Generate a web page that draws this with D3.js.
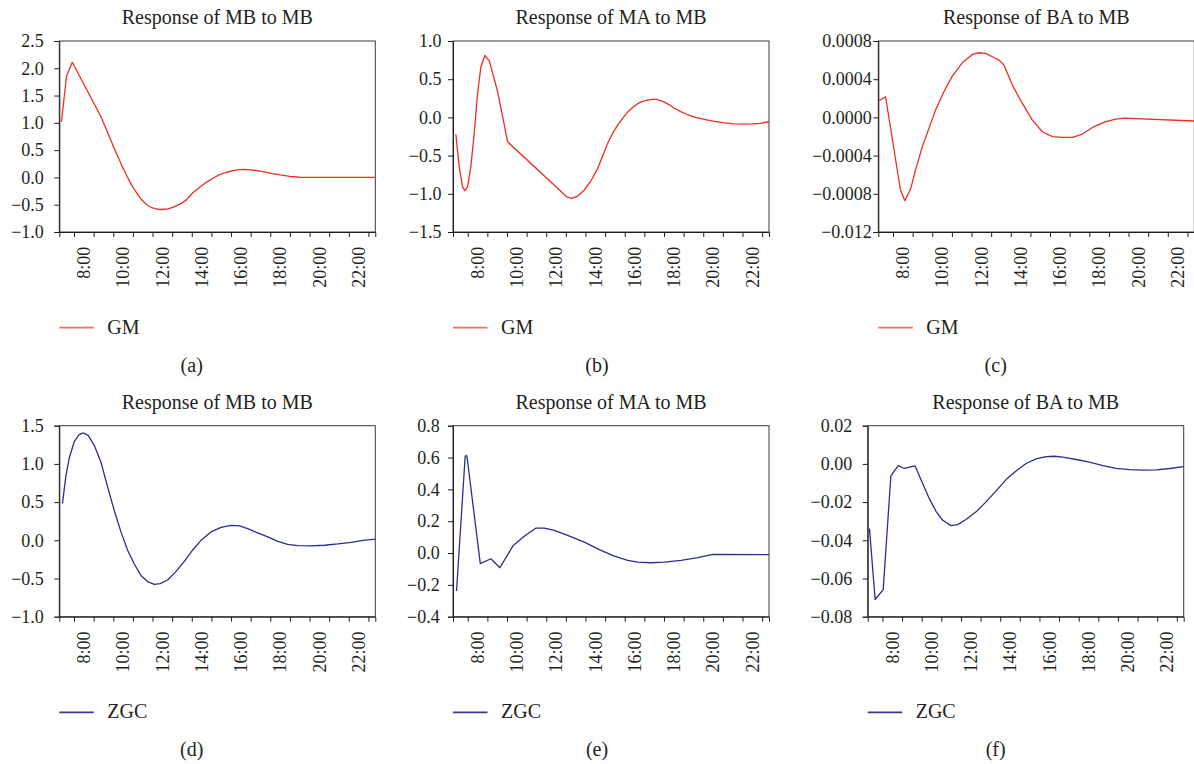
<!DOCTYPE html>
<html>
<head>
<meta charset="utf-8">
<script src="https://cdn.jsdelivr.net/npm/d3@7"></script>
<style>
  body { margin: 0; background: #fff; }
  svg text { font-family: "Liberation Serif", "DejaVu Serif", serif !important; fill: #231f20; }
</style>
</head>
<body>
<div id="chart"></div>
<script>
// time axis (hours of the day)
var hourLabels = [8, 10, 12, 14, 16, 18, 20, 22];
var minorTicks = [7.5, 8.5, 9.5, 10.5, 11.5, 12.5, 13.5, 14.5, 15.5, 16.5, 17.5, 18.5, 19.5, 20.5, 21.5, 22.5];

// GM responses
var gmMB = [[6.86,1.02],[7.12,1.86],[7.41,2.11],[8.86,1.12],[9.15,0.88],[9.4,0.66],[9.6,0.49],[9.8,0.33],[10.0,0.17],
    [10.2,0.02],[10.45,-0.15],[10.7,-0.29],[10.95,-0.41],[11.2,-0.5],[11.5,-0.56],[11.8,-0.585],[12.0,-0.588],
    [12.3,-0.575],[12.6,-0.54],[12.9,-0.49],[13.2,-0.42],[13.56,-0.28],[13.9,-0.18],[14.24,-0.09],[14.6,-0.01],
    [14.92,0.05],[15.25,0.095],[15.6,0.125],[15.9,0.143],[16.2,0.147],[16.5,0.14],[16.8,0.125],[17.2,0.1],
    [17.6,0.07],[18.0,0.045],[18.5,0.02],[19.0,0.003],[20.0,0.0],[21.0,0.0],[22.85,0.002]];
var gmMA = [[6.895,-0.22],[7.065,-0.645],[7.235,-0.907],[7.354,-0.96],[7.49,-0.91],[7.66,-0.645],[7.83,-0.21],
    [8.0,0.31],[8.17,0.66],[8.37,0.81],[8.6,0.74],[8.8,0.55],[9.02,0.34],[9.28,0.01],[9.53,-0.32],[12.34,-0.99],
    [12.55,-1.04],[12.8,-1.06],[13.1,-1.03],[13.44,-0.95],[13.8,-0.82],[14.12,-0.67],[14.4,-0.49],[14.63,-0.34],
    [14.9,-0.2],[15.14,-0.1],[15.4,-0.01],[15.65,0.07],[15.9,0.13],[16.16,0.18],[16.4,0.21],[16.67,0.227],
    [16.9,0.235],[17.1,0.235],[17.3,0.222],[17.52,0.2],[17.8,0.16],[18.03,0.12],[18.35,0.075],[18.7,0.035],
    [19.1,0.0],[19.56,-0.026],[20.0,-0.05],[20.58,-0.072],[21.1,-0.084],[21.6,-0.087],[22.0,-0.085],
    [22.4,-0.077],[22.85,-0.057]];
var gmBA = [[6.78,0.000174],[7.12,0.000216],[7.88,-0.00076],[8.1,-0.000872],[8.39,-0.000753],[8.65,-0.00055],
    [8.99,-0.000307],[9.33,-0.000115],[9.67,0.000077],[10.09,0.000268],[10.52,0.000432],[11.03,0.000572],
    [11.54,0.000659],[11.88,0.000677],[12.22,0.00067],[12.56,0.000635],[12.9,0.0006],[13.15,0.000548],
    [13.58,0.000338],[14.09,0.000146],[14.6,-0.000028],[15.11,-0.00015],[15.62,-0.000202],[16.13,-0.000209],
    [16.64,-0.000209],[17.15,-0.000174],[17.66,-0.000105],[18.34,-0.000045],[18.85,-0.000017],
    [19.28,-0.000007],[22.85,-0.000038]];

// ZGC responses
var zgcMB = [[6.91,0.48],[7.08,0.83],[7.25,1.07],[7.51,1.29],[7.76,1.383],[7.98,1.405],[8.22,1.374],[8.53,1.243],
    [8.87,1.025],[9.21,0.70],[9.55,0.39],[9.89,0.11],[10.23,-0.13],[10.57,-0.31],[10.91,-0.46],[11.25,-0.54],
    [11.59,-0.576],[11.89,-0.567],[12.27,-0.52],[12.69,-0.41],[13.12,-0.275],[13.54,-0.13],[13.97,0.0],
    [14.48,0.11],[14.99,0.17],[15.5,0.196],[15.93,0.19],[16.35,0.153],[16.86,0.096],[17.37,0.044],
    [17.88,-0.013],[18.39,-0.052],[18.9,-0.07],[19.58,-0.074],[20.26,-0.065],[20.94,-0.048],[21.62,-0.026],
    [22.22,0.0],[22.9,0.017]];
var zgcMA = [[6.93,-0.239],[7.37,0.607],[7.42,0.614],[7.47,0.6],[8.14,-0.067],[8.68,-0.036],[9.14,-0.092],
    [9.82,0.048],[10.38,0.105],[10.98,0.157],[11.4,0.157],[11.91,0.142],[12.59,0.111],[13.44,0.069],
    [14.29,0.017],[14.97,-0.019],[15.65,-0.046],[16.16,-0.057],[16.84,-0.061],[17.52,-0.057],[18.37,-0.046],
    [19.22,-0.029],[19.99,-0.008],[22.85,-0.01]];
var zgcBA = [[6.84,-0.0339],[7.13,-0.071],[7.54,-0.0658],[7.93,-0.0063],[8.31,-0.0009],[8.61,-0.0024],
    [9.16,-0.001],[9.55,-0.0103],[9.89,-0.0182],[10.23,-0.0248],[10.57,-0.0295],[10.99,-0.0323],
    [11.33,-0.0318],[11.76,-0.0291],[12.27,-0.0251],[12.78,-0.0199],[13.29,-0.0141],[13.8,-0.0082],
    [14.31,-0.0037],[14.82,0.0002],[15.33,0.0026],[15.84,0.0038],[16.27,0.004],[16.69,0.0035],[17.37,0.0023],
    [18.05,0.0009],[18.73,-0.0009],[19.41,-0.0023],[20.09,-0.003],[20.77,-0.0033],[21.45,-0.0031],
    [22.13,-0.0024],[22.85,-0.0014]];

// y ticks and their printed labels
var ticksMB1 = [-1.0, -0.5, 0.0, 0.5, 1.0, 1.5, 2.0, 2.5];
var ticksMA1 = [-1.5, -1.0, -0.5, 0.0, 0.5, 1.0];
var ticksBA1 = [-0.0012, -0.0008, -0.0004, 0.0, 0.0004, 0.0008];
var labelsBA1 = ["\u22120.012", "\u22120.0008", "\u22120.0004", "0.0000", "0.0004", "0.0008"];
var ticksMB2 = [-1.0, -0.5, 0.0, 0.5, 1.0, 1.5];
var ticksMA2 = [-0.4, -0.2, 0.0, 0.2, 0.4, 0.6, 0.8];
var ticksBA2 = [-0.08, -0.06, -0.04, -0.02, 0.0, 0.02];

var titles = ["Response of MB to MB", "Response of MA to MB", "Response of BA to MB"];
var subLabels = ["(a)", "(b)", "(c)", "(d)", "(e)", "(f)"];

var red = "#ec2f22", blue = "#2e2d8f";
var serif = '"Liberation Serif", "DejaVu Serif", serif';

var fmt = function(digits) {
    return function(d) { return d3.format("." + digits + "f")(d).replace("-", "\u2212"); };
};

var panels = [
    { data: gmMB, ticks: ticksMB1, fmt: fmt(1), title: titles[0], name: "GM", color: red, left: 59.3, top: 41, pad: 10.5, sub: 191.7 },
    { data: gmMA, ticks: ticksMA1, fmt: fmt(1), title: titles[1], name: "GM", color: red, left: 453, top: 41, pad: 6.5, sub: 597 },
    { data: gmBA, ticks: ticksBA1, fmt: function(d, i) { return labelsBA1[i]; }, title: titles[2], name: "GM", color: red, left: 878.3, top: 41, pad: 1.5, sub: 995.7 },
    { data: zgcMB, ticks: ticksMB2, fmt: fmt(1), title: titles[0], name: "ZGC", color: blue, left: 59.3, top: 425.7, pad: 10.5, sub: 191.7 },
    { data: zgcMA, ticks: ticksMA2, fmt: fmt(1), title: titles[1], name: "ZGC", color: blue, left: 453, top: 425.7, pad: 8.3, sub: 597 },
    { data: zgcBA, ticks: ticksBA2, fmt: fmt(2), title: titles[2], name: "ZGC", color: blue, left: 867.7, top: 425.7, pad: 10.5, sub: 995.7 }
];

var width = 316, height = 191;

var svg = d3.select("#chart").append("svg")
    .attr("width", 1194)
    .attr("height", 764)
    .attr("font-family", serif);

panels.forEach(function(p, i) {
    var x = d3.scaleLinear().domain([6.75, 22.85]).range([0, width]);
    var y = d3.scaleLinear().domain(d3.extent(p.ticks)).range([height, 0]);

    var g = svg.append("g").attr("transform", "translate(" + p.left + "," + p.top + ")");

    g.append("clipPath").attr("id", "clip" + i)
        .append("rect").attr("width", width).attr("height", height);

    // frame
    g.append("rect")
        .attr("width", width).attr("height", height)
        .attr("fill", "none").attr("stroke", "#3a3a3a").attr("stroke-width", 1);

    // y axis
    var yAxis = g.append("g")
        .call(d3.axisLeft(y).tickValues(p.ticks).tickFormat(p.fmt).tickSize(5).tickPadding(p.pad))
        .attr("font-family", serif);
    yAxis.selectAll("text").style("font-size", "18px").style("font-family", serif);

    // x axis: minor ticks at half hours, labels on the hour
    g.append("g").attr("transform", "translate(0," + height + ")")
        .call(d3.axisBottom(x).tickValues(minorTicks).tickFormat("").tickSize(5));
    g.append("g").attr("transform", "translate(0," + height + ")")
        .selectAll("text").data(hourLabels).enter().append("text")
        .attr("transform", function(d) { return "translate(" + x(d) + ",14.7) rotate(-90)"; })
        .attr("text-anchor", "end")
        .attr("dy", "0.35em")
        .style("font-size", "18px")
        .style("font-family", serif)
        .text(function(d) { return d + ":00"; });

    g.selectAll(".domain, .tick line").attr("stroke", "#231f20");

    // line
    var line = d3.line()
        .x(function(d) { return x(d[0]); })
        .y(function(d) { return y(d[1]); });

    g.append("path")
        .datum(p.data)
        .attr("clip-path", "url(#clip" + i + ")")
        .attr("fill", "none")
        .attr("stroke", p.color)
        .attr("stroke-width", 1.3)
        .attr("stroke-linejoin", "round")
        .attr("d", line);

    // title
    g.append("text")
        .attr("x", width / 2).attr("y", -17)
        .attr("text-anchor", "middle")
        .style("font-size", "20px")
        .text(p.title);

    // legend
    g.append("line")
        .attr("x1", 0).attr("x2", 34.5)
        .attr("y1", height + 95.7).attr("y2", height + 95.7)
        .attr("stroke", p.name === "GM" ? "#f07560" : "#3b3a96")
        .attr("stroke-width", 1.8);
    g.append("text")
        .attr("x", 48).attr("y", height + 101.5)
        .style("font-size", "20px")
        .text(p.name);

    // sub label
    svg.append("text")
        .attr("x", p.sub).attr("y", p.top + height + 139.7)
        .attr("text-anchor", "middle")
        .style("font-size", "20px")
        .text(subLabels[i]);
});
</script>
</body>
</html>
